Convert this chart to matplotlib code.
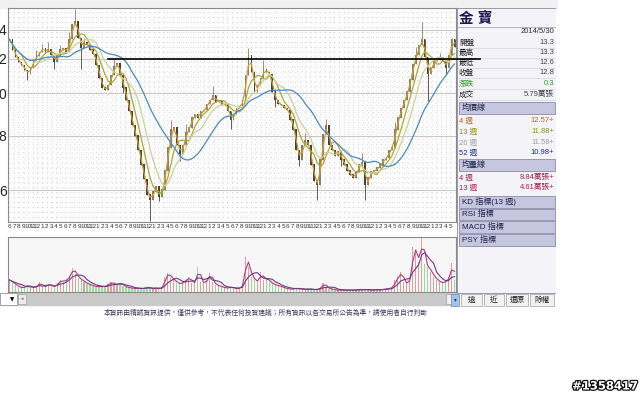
import numpy as np
import pandas as pd
import matplotlib
matplotlib.use("Agg")
import matplotlib.pyplot as plt
from matplotlib.patches import Rectangle
import matplotlib.patheffects as pe

plt.rcParams["font.family"] = ["Liberation Sans", "Noto Sans CJK TC", "DejaVu Sans"]

# weekly chart of 金寶 (one value per ~3 weeks)
close = [13.3, 12.6, 12.1, 11.8, 11.6, 11.3, 11.1, 11.45, 11.95, 12.2,
         12.45, 12.7, 12.45, 12.6, 12.25, 11.8, 12.2, 12.6, 12.7, 12.45,
         13.3, 14.4, 14.6, 13.4, 12.7, 13.1, 12.9, 12.6, 12.3, 11.6,
         10.85, 10.3, 10.2, 10.45, 11.0, 11.55, 11.7, 11.0, 10.3, 9.65,
         9.1, 8.45, 8.0, 7.4, 6.85, 6.35, 5.85, 5.7, 5.95, 6.1,
         5.8, 6.0, 6.65, 7.5, 8.25, 8.35, 7.6, 7.25, 7.6, 8.15,
         8.35, 8.8, 8.95, 8.8, 9.1, 9.15, 9.45, 9.65, 9.9, 9.55,
         9.65, 9.4, 9.5, 9.1, 8.7, 8.95, 9.25, 9.35, 9.65, 11.0,
         12.25, 11.2, 10.1, 10.45, 10.85, 11.35, 11.2, 11.05, 10.1, 9.65,
         9.45, 9.4, 9.25, 9.15, 8.7, 8.25, 7.4, 7.05, 7.6, 7.8,
         7.6, 6.85, 6.3, 6.15, 7.05, 8.05, 8.45, 7.6, 7.4, 7.2,
         7.35, 7.05, 6.85, 6.65, 6.5, 6.4, 6.6, 6.85, 6.95, 6.15,
         6.4, 6.6, 6.65, 6.75, 6.85, 7.05, 7.1, 7.4, 7.5, 8.25,
         8.8, 9.25, 9.65, 10.1, 10.75, 11.65, 12.25, 12.9, 13.3, 12.1,
         11.05, 11.45, 11.85, 11.95, 12.1, 11.85, 11.45, 12.25, 13.3, 12.8]

high_spikes = {9: 12.6, 11: 13.0, 13: 13.1, 17: 12.9, 20: 13.8, 22: 15.6, 25: 13.4,
               35: 12.0, 54: 8.7, 59: 8.5, 68: 10.4, 80: 12.7, 85: 11.9, 99: 8.1,
               106: 8.75, 118: 7.3, 129: 8.6, 136: 12.8, 138: 14.6, 144: 12.4, 148: 13.4}
low_spikes = {6: 10.75, 15: 11.4, 24: 11.4, 38: 10.0, 47: 5.1, 50: 5.65, 57: 7.0,
              74: 8.3, 89: 9.3, 97: 6.8, 103: 5.7, 111: 6.8, 119: 5.7, 140: 9.6,
              146: 11.1}

# volume in 萬張
volume = [5.6, 4.2, 3.3, 2.3, 1.9, 2.3, 3.3, 2.3, 1.9, 2.8,
          4.6, 2.3, 2.8, 3.7, 2.8, 2.3, 4.2, 5.6, 4.6, 6.0,
          7.4, 11.2, 8.4, 6.5, 5.6, 4.6, 3.7, 3.3, 2.8, 2.3,
          2.8, 2.3, 2.8, 3.7, 4.6, 3.7, 3.3, 4.2, 2.8, 2.3,
          1.9, 1.9, 1.4, 1.9, 1.4, 1.9, 2.3, 1.9, 1.4, 1.9,
          1.4, 2.3, 7.0, 8.8, 6.5, 5.6, 4.2, 3.7, 4.6, 5.6,
          7.0, 4.2, 4.6, 11.6, 4.6, 4.2, 5.6, 8.8, 4.6, 3.3,
          2.8, 2.3, 1.9, 1.9, 2.3, 1.9, 1.4, 1.9, 3.7, 16.3,
          11.6, 7.0, 5.6, 4.6, 9.3, 5.6, 6.5, 4.6, 3.7, 3.3,
          2.8, 2.3, 1.9, 1.4, 1.4, 1.4, 1.9, 1.4, 1.4, 0.9,
          1.4, 1.4, 0.9, 1.4, 1.9, 4.2, 2.3, 1.4, 1.4, 0.9,
          0.9, 0.9, 0.9, 0.9, 0.9, 0.9, 0.9, 1.4, 0.9, 1.4,
          0.9, 0.9, 0.9, 1.4, 0.9, 1.4, 1.4, 1.9, 1.9, 5.6,
          7.0, 9.3, 4.6, 3.7, 7.0, 20.9, 18.1, 14.0, 26.0, 13.0,
          11.6, 9.3, 7.0, 5.6, 4.6, 4.2, 5.1, 7.0, 13.5, 5.79]

start_date, end_date = "2006-06-01", "2014-05-30"
ma_weeks = [4, 13, 26, 52]
ma_colors = ["#c89a3a", "#a8a83a", "#cfcf9c", "#4a8ab8"]
vol_ma_weeks = [4, 13]
vol_ma_colors = ["#b03a78", "#6a3a86"]

info_labels = ["開盤", "最高", "最低", "收盤", "漲跌", "成交"]
info_values = ["13.3", "13.3", "12.6", "12.8", "0.3", "5.79萬張"]
ma_labels = ["4 週", "13 週", "26 週", "52 週"]
ma_values = ["12.57+", "11.88+", "11.58+", "10.98+"]
ma_text_colors = ["#b06a20", "#909020", "#a0a0a0", "#203080"]
vol_labels = ["4 週", "13 週"]
vol_values = ["8.84萬張+", "4.61萬張+"]
buttons = ["KD 指標(13 週)", "RSI 指標", "MACD 指標", "PSY 指標"]
bottom_buttons = ["遠", "近", "還原", "除權"]

n = len(close)
x = np.arange(n)
opens = [close[0]] + close[:-1]
up = np.array(close) >= np.array(opens)
highs = [max(high_spikes.get(i, 0), o, c) for i, (o, c) in enumerate(zip(opens, close))]
lows = [min(low_spikes.get(i, 99), o, c) for i, (o, c) in enumerate(zip(opens, close))]
weeks_per_bar = 416 / n

dates = pd.date_range(start_date, end_date, periods=n)
months = pd.date_range(start_date, "2014-05-01", freq="MS")
month_pos = np.interp(months.asi8, dates.asi8, x)

W, H = 640, 395
fig = plt.figure(figsize=(W / 100, H / 100), dpi=100, facecolor="white")


def box(px0, py0, px1, py1):
    return [px0 / W, 1 - py1 / H, (px1 - px0) / W, (py1 - py0) / H]


# background layer in pixel coordinates
bg = fig.add_axes([0, 0, 1, 1], zorder=-5)
bg.set_xlim(0, W)
bg.set_ylim(H, 0)
bg.axis("off")
bg.add_patch(Rectangle((0, 0), 557, 8, color="#f1f1f1"))
bg.add_patch(Rectangle((0, 293), 457, 12, color="#c9c9c9"))
bg.add_patch(Rectangle((0, 293), 17, 12, facecolor="white", edgecolor="#9a9a9a", lw=0.6))
bg.text(12, 299.5, "▼", fontsize=4, ha="center", va="center", family=["DejaVu Sans"])
bg.add_patch(Rectangle((18, 294), 8, 10, facecolor="#ececec", edgecolor="#a0a0a0", lw=0.5))
bg.text(22, 299, "◂", fontsize=3.5, ha="center", va="center", color="#666", family=["DejaVu Sans"])
bg.add_patch(Rectangle((446, 294), 6, 10, facecolor="#eeeeee", edgecolor="#a0a0a0", lw=0.5))
bg.text(266, 313, "本資訊由精誠資訊提供，僅供參考，不代表任何投資建議；所有資訊以各交易所公告為準，請使用者自行判斷",
        fontsize=4.9, ha="center", va="center", color="#3a3a5a")
bg.text(605, 386, "#1358417", fontsize=8.3, fontweight="bold", ha="center", va="center",
        color="white", family=["DejaVu Sans"],
        path_effects=[pe.withStroke(linewidth=1.8, foreground="#111")])

# price chart
ax = fig.add_axes(box(8, 8, 456, 222), zorder=3)
ax.set_facecolor("#fcfcfc")
ax.set_yscale("log")
ax.set_xlim(-0.5, n - 0.5)
ax.set_ylim(5.07, 15.7)
for f in np.arange(0, 1, 5 / 214):
    ax.plot([0, 1], [f, f], transform=ax.transAxes, color="#b9b9b9", lw=0.5,
            ls=(0, (1, 6)), zorder=0)
for p in month_pos:
    ax.axvline(p, color="#b9b9b9", lw=0.5, ls=(0, (1, 6)), zorder=0)
for level in [6, 8, 10, 12, 14]:
    ax.axhline(level, color="#bdbdbd", lw=0.6, zorder=0.5)

body_col = np.where(up, "#8a7e66", "#4a4236")
ax.vlines(x, lows, highs, colors=body_col, lw=0.6, zorder=2)
ax.bar(x, np.abs(np.array(close) - np.array(opens)) + 0.02, bottom=np.minimum(close, opens),
       width=0.55, color=body_col, zorder=2)

for w, col in zip(ma_weeks, ma_colors):
    win = max(2, int(round(w / weeks_per_bar)))
    ma = pd.Series(close).rolling(win, min_periods=1).mean()
    ax.plot(x, ma, color=col, lw=0.9, zorder=3)

# user drawn line at 12
ax.plot([33, 157.5], [12.0, 12.0], color="black", lw=1.2, clip_on=False, zorder=10)

ax.set_yticks([14, 12, 10, 8, 6], ["4", "2", "0", "8", "6"])
ax.yaxis.set_minor_locator(matplotlib.ticker.NullLocator())
ax.tick_params(axis="y", length=0, pad=1, labelsize=10, labelcolor="#222")
for lbl in ax.get_yticklabels():
    lbl.set_verticalalignment("center_baseline")
ax.set_xticks(month_pos, [str(m) for m in months.month])
ax.tick_params(axis="x", length=0, pad=1.5, labelsize=4.6, labelcolor="#333")
for s in ax.spines.values():
    s.set_color("#8a8a8a")
    s.set_linewidth(0.8)

# volume chart
vax = fig.add_axes(box(8, 237, 456, 292), zorder=2)
vax.set_facecolor("#f6f6f6")
vax.set_xlim(-0.5, n - 0.5)
vax.set_ylim(0, 25.6)
vax.bar(x, volume, width=0.45, color=np.where(up, "#d9a0a0", "#9fd69f"))
for w, col in zip(vol_ma_weeks, vol_ma_colors):
    win = max(2, int(round(w / weeks_per_bar)))
    vma = pd.Series(volume).rolling(win, min_periods=1).mean()
    vax.plot(x, vma, color=col, lw=0.8)
vax.set_xticks([])
vax.set_yticks([])
for s in vax.spines.values():
    s.set_color("#8a8a8a")
    s.set_linewidth(0.8)

# info panel
pn = fig.add_axes(box(457, 8, 556, 308), zorder=1)
pn.set_xlim(457, 556)
pn.set_ylim(308, 8)
pn.axis("off")
pn.add_patch(Rectangle((457, 8), 99, 285, facecolor="#f3f3f8", edgecolor="#8a8a9a", lw=0.6))
pn.text(459, 19, "金 寶", fontsize=10.5, fontweight="bold", color="#1a1a50", va="center")
pn.plot([458, 555], [27, 27], color="#9a9aaa", lw=0.5)
pn.text(554, 32, "2014/5/30", fontsize=5.5, ha="right", va="center", color="#333")
row_y = [43, 53, 63, 73, 84, 95]
for lab, val, yy in zip(info_labels, info_values, row_y):
    col = "#2a9a2a" if lab == "漲跌" else "#222"
    pn.text(459, yy, lab, fontsize=5.5, va="center", color=col)
    pn.text(554, yy, val, fontsize=5.5, ha="right", va="center", color="#2a9a2a" if lab == "漲跌" else "#444")
    pn.plot([458, 555], [yy + 5, yy + 5], color="#d4d4de", lw=0.5)


def header(y0, y1, label):
    pn.add_patch(Rectangle((459, y0), 96, y1 - y0, facecolor="#c6c6de", edgecolor="#8c8cac", lw=0.6))
    pn.text(462, (y0 + y1) / 2, label, fontsize=5.8, va="center", color="#20204a")


header(102, 114, "均價線")
for lab, val, col, yy in zip(ma_labels, ma_values, ma_text_colors, [121, 132, 143, 153]):
    pn.text(459, yy, lab, fontsize=5.5, va="center", color=col)
    pn.text(554, yy, val, fontsize=5.5, ha="right", va="center", color=col)
header(159, 171, "均量線")
for lab, val, yy in zip(vol_labels, vol_values, [178, 188]):
    pn.text(459, yy, lab, fontsize=5.5, va="center", color="#a02050")
    pn.text(554, yy, val, fontsize=5.5, ha="right", va="center", color="#a02050")
for lab, (y0, y1) in zip(buttons, [(196, 208), (209, 220), (221, 233), (234, 246)]):
    header(y0, y1, lab)

pn.add_patch(Rectangle((451, 294), 8, 12, facecolor="#a2c4ea", edgecolor="#6a8ab0", lw=0.5, clip_on=False))
pn.text(455, 300, "▾", fontsize=4, ha="center", va="center", color="#203060", family=["DejaVu Sans"], clip_on=False)
for lab, (x0, x1) in zip(bottom_buttons, [(461, 482), (484, 504), (506, 528), (530, 554)]):
    pn.add_patch(Rectangle((x0, 294), x1 - x0, 12, facecolor="#f2f2f2", edgecolor="#a0a0a0", lw=0.5))
    pn.text((x0 + x1) / 2, 300, lab, fontsize=5.5, ha="center", va="center", color="#222")

fig.savefig("out.png", dpi=100, facecolor="white")
